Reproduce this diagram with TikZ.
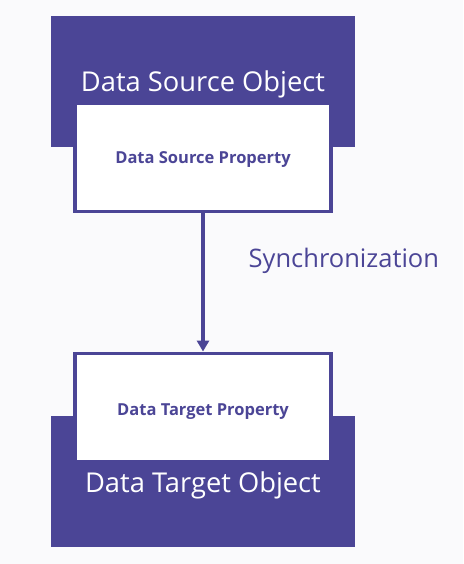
\documentclass[tikz,border=0pt]{standalone}
\usepackage{fontspec}
\setmainfont{Open Sans}
\usetikzlibrary{arrows.meta}
\definecolor{objpurple}{RGB}{75,69,150}
\definecolor{bgpaper}{RGB}{250,250,252}
\tikzset{
	objbox/.style={fill=objpurple, draw=none, minimum width=304.5pt, minimum height=131pt, inner sep=0pt},
	propbox/.style={fill=white, draw=objpurple, line width=3.4pt, minimum width=256pt, minimum height=108.5pt, inner sep=0pt},
	objtext/.style={white, font=\fontsize{27.3}{32}\selectfont, anchor=base},
	proptext/.style={objpurple, font=\bfseries\fontsize{16.5}{20}\selectfont, anchor=base}
}

\begin{document}
\begin{tikzpicture}[x=1pt,y=1pt]
		\fill[bgpaper] (0,0) rectangle (463,564);
		\useasboundingbox (0,0) rectangle (463,564);
		% source side
		\node[objbox] (srcobj) at (202.75,482.5) {};
		\node[objtext] (srcobjlabel) at (203,472) {Data Source Object};
		\node[propbox] (srcprop) at (203,406.5) {};
		\node[proptext] (srcproplabel) at (203,400.7) {Data Source Property};
		% target side
		\node[objbox] (tgtobj) at (202.75,82.3) {};
		\node[propbox] (tgtprop) at (203,156.5) {};
		\node[proptext] (tgtproplabel) at (203,148) {Data Target Property};
		\node[objtext] (tgtobjlabel) at (203,71.7) {Data Target Object};
		% binding
		\draw[objpurple, line width=3.4pt, -{Triangle[length=11pt,width=12pt]}] (srcprop.south) -- (tgtprop.north);
		\node[objpurple, font=\fontsize{25.5}{30}\selectfont, anchor=base west, inner sep=0pt] (synclabel) at (248.5,296.3) {Synchronization};
	\end{tikzpicture}
\end{document}
